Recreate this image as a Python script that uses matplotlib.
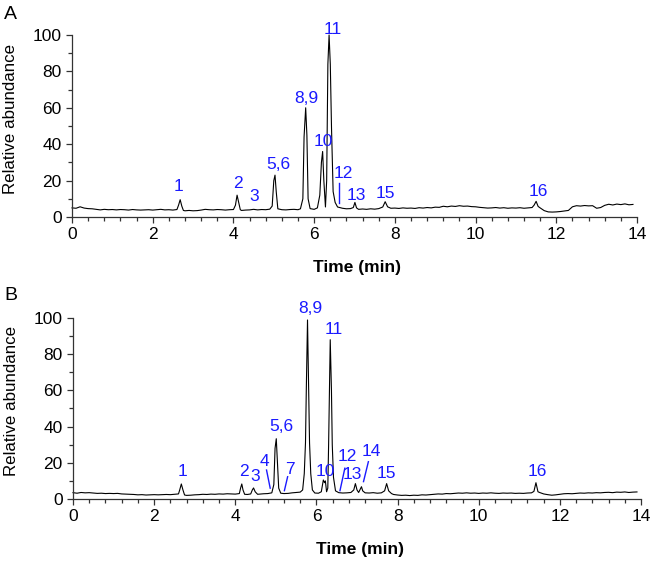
import matplotlib
matplotlib.use('Agg')
from matplotlib import pyplot as plt
from matplotlib.ticker import MultipleLocator
import numpy as np

plt.rcParams['font.family'] = ['Liberation Sans', 'DejaVu Sans']

# chromatogram A (time [min], relative abundance)
time_a = [0.0, 0.1, 0.2, 0.3, 0.4, 0.5, 0.6, 0.7, 0.8, 0.9, 1.0, 1.1, 1.2, 1.3, 1.4, 1.5,
          1.6, 1.7, 1.8, 1.9, 2.0, 2.1, 2.2, 2.3, 2.4, 2.5, 2.6, 2.64, 2.68, 2.72, 2.76,
          2.8, 2.9, 3.0, 3.1, 3.2, 3.3, 3.4, 3.5, 3.6, 3.7, 3.8, 3.9, 4.0, 4.05, 4.09,
          4.13, 4.17, 4.2, 4.3, 4.4, 4.5, 4.6, 4.7, 4.8, 4.9, 4.96, 5.0, 5.03, 5.06, 5.1,
          5.2, 5.3, 5.4, 5.5, 5.6, 5.66, 5.72, 5.75, 5.79, 5.82, 5.85, 5.9, 6.0, 6.08,
          6.14, 6.18, 6.21, 6.24, 6.28, 6.31, 6.34, 6.37, 6.4, 6.43, 6.47, 6.52, 6.58,
          6.7, 6.8, 6.9, 6.97, 7.01, 7.05, 7.1, 7.2, 7.3, 7.4, 7.5, 7.6, 7.7, 7.76, 7.82,
          7.9, 8.0, 8.1, 8.2, 8.3, 8.4, 8.5, 8.6, 8.7, 8.8, 8.9, 9.0, 9.1, 9.2, 9.3, 9.4,
          9.5, 9.6, 9.7, 9.8, 9.9, 10.0, 10.1, 10.2, 10.3, 10.4, 10.5, 10.6, 10.7, 10.8,
          10.9, 11.0, 11.1, 11.2, 11.3, 11.4, 11.45, 11.5, 11.55, 11.6, 11.7, 11.8, 11.9,
          12.0, 12.1, 12.2, 12.3, 12.4, 12.5, 12.6, 12.7, 12.8, 12.9, 13.0, 13.1, 13.2,
          13.3, 13.4, 13.5, 13.6, 13.7, 13.8, 13.9]
abund_a = [5.0, 4.8, 5.6, 4.9, 4.6, 4.5, 4.2, 3.9, 4.2, 4.0, 4.1, 3.9, 4.1, 4.0, 3.8, 4.1,
           3.9, 3.8, 3.9, 4.0, 3.8, 4.0, 4.2, 3.9, 4.0, 3.8, 4.1, 6.5, 9.5, 6.0, 3.6,
           3.4, 3.6, 3.4, 3.5, 3.8, 4.2, 4.0, 3.9, 4.1, 4.0, 3.8, 4.0, 4.1, 6.5, 12.0,
           8.0, 4.0, 3.6, 3.8, 3.9, 4.2, 3.9, 4.1, 4.0, 4.3, 6.0, 20.0, 23.0, 14.0, 4.5,
           4.0, 3.9, 4.1, 4.2, 4.0, 4.5, 10.0, 44.0, 60.0, 45.0, 10.0, 4.6, 4.2, 5.0,
           12.0, 30.0, 36.0, 20.0, 5.5, 20.0, 84.0, 100.0, 84.0, 49.0, 14.0, 8.0, 5.5,
           4.8, 4.5, 4.6, 5.2, 8.0, 5.0, 4.2, 4.4, 4.2, 4.5, 4.3, 4.6, 5.5, 8.4, 5.6,
           4.8, 4.9, 4.7, 5.0, 4.8, 4.9, 4.7, 5.1, 4.9, 5.2, 5.0, 5.4, 5.3, 5.9, 5.6, 6.0,
           5.8, 6.2, 5.9, 6.0, 5.7, 5.6, 5.3, 5.1, 4.9, 5.0, 5.2, 4.9, 5.1, 4.8,
           5.0, 4.9, 5.1, 4.8, 5.0, 5.2, 6.5, 8.6, 5.8, 5.0, 3.5, 2.8, 2.7,
           2.8, 3.0, 3.3, 3.6, 5.6, 6.2, 6.0, 6.3, 6.1, 6.2, 4.8, 5.2, 6.4,
           7.0, 6.6, 7.1, 6.8, 7.2, 6.7, 6.9]

# chromatogram B
time_b = [0.0, 0.1, 0.2, 0.3, 0.4, 0.5, 0.6, 0.7, 0.8, 0.9, 1.0, 1.1, 1.2, 1.3, 1.4, 1.5,
          1.6, 1.7, 1.8, 1.9, 2.0, 2.1, 2.2, 2.3, 2.4, 2.5, 2.6, 2.63, 2.67, 2.71, 2.75,
          2.8, 2.9, 3.0, 3.1, 3.2, 3.3, 3.4, 3.5, 3.6, 3.7, 3.8, 3.9, 4.0, 4.1, 4.13,
          4.16, 4.19, 4.23, 4.3, 4.38, 4.42, 4.45, 4.49, 4.55, 4.6, 4.7, 4.8, 4.9, 4.95,
          4.98, 5.01, 5.04, 5.07, 5.12, 5.2, 5.3, 5.4, 5.5, 5.6, 5.66, 5.7, 5.73, 5.75,
          5.78, 5.81, 5.83, 5.86, 5.9, 5.96, 6.05, 6.12, 6.17, 6.2, 6.22, 6.25, 6.28,
          6.3, 6.32, 6.34, 6.37, 6.39, 6.42, 6.47, 6.55, 6.65, 6.75, 6.85, 6.92, 6.96,
          7.0, 7.04, 7.08, 7.11, 7.14, 7.2, 7.3, 7.4, 7.5, 7.6, 7.68, 7.73, 7.78, 7.85,
          7.9, 8.0, 8.1, 8.2, 8.3, 8.4, 8.5, 8.6, 8.7, 8.8, 8.9, 9.0, 9.1, 9.2, 9.3, 9.4,
          9.5, 9.6, 9.7, 9.8, 9.9, 10.0, 10.1, 10.2, 10.3, 10.4, 10.5, 10.6, 10.7, 10.8,
          10.9, 11.0, 11.1, 11.2, 11.3, 11.36, 11.41, 11.46, 11.5, 11.6, 11.7, 11.8,
          11.9, 12.0, 12.1, 12.2, 12.3, 12.4, 12.5, 12.6, 12.7, 12.8, 12.9, 13.0, 13.1,
          13.2, 13.3, 13.4, 13.5, 13.6, 13.7, 13.8, 13.9]
abund_b = [3.5, 3.2, 3.6, 3.4, 3.5, 3.3, 3.1, 3.2, 3.0, 3.1, 3.0, 3.1, 2.8, 2.7, 2.6, 2.5,
           2.3, 2.4, 2.2, 2.3, 2.4, 2.3, 2.4, 2.5, 2.4, 2.6, 2.8, 5.0, 8.3, 5.0, 2.2,
           2.0, 2.1, 2.3, 2.4, 2.6, 2.5, 2.7, 2.6, 2.8, 2.7, 2.9, 2.8, 2.7, 3.0, 6.0,
           8.3, 5.0, 2.6, 2.5, 2.8, 5.0, 6.1, 4.0, 2.6, 2.7, 2.9, 3.0, 3.4, 8.0,
           28.0, 33.3, 20.0, 6.0, 3.2, 3.0, 3.1, 3.4, 3.6, 3.8, 5.0, 14.0, 31.0, 60.0,
           98.9, 60.0, 31.0, 14.0, 5.0, 3.3, 3.2, 4.0, 10.5, 9.0, 10.0, 4.0, 6.0,
           30.0, 60.0, 88.0, 60.0, 30.0, 12.0, 4.5, 3.5, 3.3, 3.4, 3.6, 5.0, 8.5,
           5.0, 3.6, 5.5, 6.8, 4.5, 3.4, 3.3, 3.5, 3.2, 3.4, 4.5, 8.5, 4.5, 3.0,
           2.5, 2.2, 2.0, 2.1, 1.9, 2.1, 2.0, 2.3, 2.2, 2.4, 2.6, 2.8, 2.7, 3.0, 2.9, 3.1,
           3.3, 3.2, 3.4, 3.2, 3.3, 3.1, 3.3, 3.2, 3.4, 3.2, 3.1, 3.3, 3.2, 3.3,
           3.1, 3.2, 3.1, 3.3, 3.4, 4.2, 9.0, 4.0, 3.6, 2.8, 2.4, 2.1,
           2.3, 2.6, 2.9, 3.0, 2.9, 3.1, 3.3, 3.2, 3.4, 3.3, 3.5, 3.4, 3.6,
           3.7, 3.5, 3.8, 3.7, 3.9, 3.6, 3.8, 3.9]

# peak labels: text, x, y (label centre) and pointer lines
labels_a = [('1', 2.65, 17), ('2', 4.11, 18.6), ('3', 4.51, 11), ('5,6', 5.11, 29),
            ('8,9', 5.81, 65), ('10', 6.23, 41.4), ('11', 6.46, 103), ('12', 6.72, 24),
            ('13', 7.05, 12), ('15', 7.76, 13), ('16', 11.55, 14)]
lines_a = [((6.61, 6.61), (18.7, 7.7))]

labels_b = [('1', 2.69, 15), ('2', 4.21, 15), ('3', 4.49, 12.3), ('4', 4.73, 20.6),
            ('5,6', 5.13, 40.3), ('7', 5.35, 16.4), ('8,9', 5.86, 105), ('10', 6.23, 15),
            ('11', 6.42, 93.4), ('12', 6.75, 23.4), ('13', 6.89, 13.3), ('14', 7.35, 26),
            ('15', 7.73, 14.2), ('16', 11.45, 15)]
lines_b = [((4.77, 4.86), (16, 6)), ((5.29, 5.21), (12.3, 4.6)),
           ((6.70, 6.58), (17, 4.6)), ((7.28, 7.16), (20.6, 9.6))]

fig = plt.figure(figsize=(6.5, 5.62), dpi=100)
ax_a = fig.add_axes([0.1108, 0.6139, 0.8692, 0.3238])
ax_b = fig.add_axes([0.1123, 0.1121, 0.8739, 0.3221])


def style_axes(ax):
    for side in ['top', 'right']:
        ax.spines[side].set_visible(False)
    for side in ['left', 'bottom']:
        ax.spines[side].set_linewidth(0.9)
        ax.spines[side].set_color('#333333')
    ax.set_xlim(0, 14)
    ax.set_ylim(0, 100)
    ax.xaxis.set_major_locator(MultipleLocator(2))
    ax.xaxis.set_minor_locator(MultipleLocator(0.4))
    ax.yaxis.set_major_locator(MultipleLocator(20))
    ax.yaxis.set_minor_locator(MultipleLocator(10))
    ax.tick_params(which='major', length=4, width=0.9, labelsize=12.5, color='#333333',
                   pad=3.5)
    ax.tick_params(which='minor', length=3.2, width=0.9, color='#333333')
    ax.set_xlabel('Time (min)', fontsize=12.5, fontweight='bold')
    ax.xaxis.set_label_coords(0.505, -0.235)
    ax.set_ylabel('Relative abundance', fontsize=12.2)
    ax.yaxis.set_label_coords(-0.095, 0.54)


for ax, t, y, labels, lines in [(ax_a, time_a, abund_a, labels_a, lines_a),
                                (ax_b, time_b, abund_b, labels_b, lines_b)]:
    ax.plot(t, y, color='black', linewidth=0.8, clip_on=False)
    for txt, lx, ly in labels:
        ax.text(lx, ly, txt, color='#1a1aff', fontsize=12.5, ha='center', va='center',
                clip_on=False)
    for xs, ys in lines:
        ax.plot(xs, ys, color='#1a1aff', linewidth=1.0, clip_on=False)
    style_axes(ax)

fig.text(0.006, 0.99, 'A', fontsize=14, va='top', ha='left')
fig.text(0.006, 0.49, 'B', fontsize=14, va='top', ha='left')

fig.savefig('out.png', dpi=100)
